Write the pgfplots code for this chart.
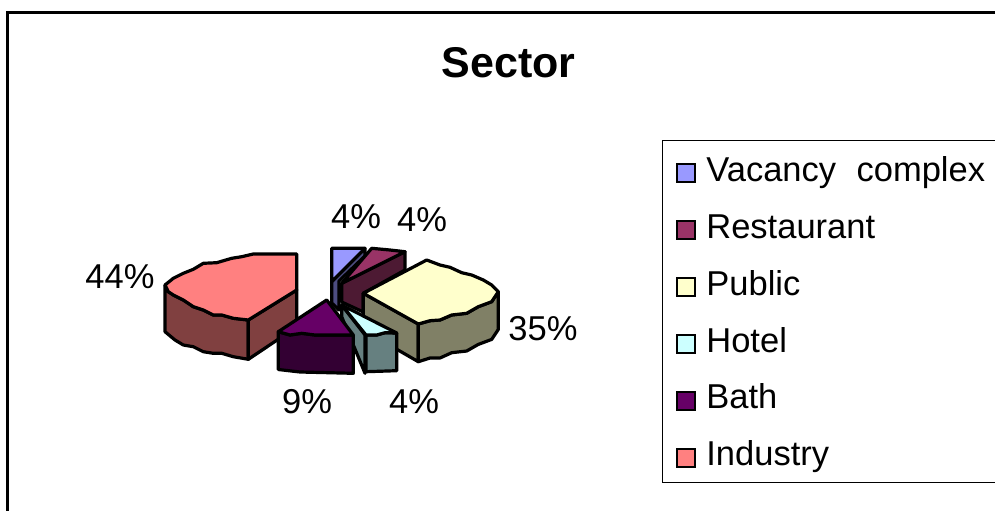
\documentclass[border=0pt]{standalone}
\usepackage{fontspec}
\setmainfont{Liberation Sans}
\usepackage{pgfplots}
\pgfplotsset{compat=1.18}
\definecolor{cVac}{HTML}{9999FF}\definecolor{cVacS}{HTML}{4D4D80}
\definecolor{cRes}{HTML}{993366}\definecolor{cResS}{HTML}{4D1A33}
\definecolor{cPub}{HTML}{FFFFCC}\definecolor{cPubS}{HTML}{808066}
\definecolor{cHot}{HTML}{CCFFFF}\definecolor{cHotS}{HTML}{668080}
\definecolor{cBat}{HTML}{660066}\definecolor{cBatS}{HTML}{330033}
\definecolor{cInd}{HTML}{FF8080}\definecolor{cIndS}{HTML}{804040}
\newcommand{\lab}{\fontsize{34.5bp}{40bp}\selectfont}
\newcommand{\swatch}[1]{\addlegendimage{legend image code/.code={\draw[black,line width=2bp,fill=#1] (0bp,-13bp) rectangle (18bp,5bp);}}}
\begin{document}
\begin{tikzpicture}
\useasboundingbox (0,0) rectangle (995bp,511bp);
\begin{axis}[
  scale only axis, width=995bp, height=511bp,
  xmin=0, xmax=995, ymin=0, ymax=511, y dir=reverse,
  axis lines=none, clip=true,
  piece/.style={draw=black, line width=3.2bp, line join=round},
  legend style={at={(axis cs:662,140)}, anchor=north west, draw=black, line width=0.8bp,
    font=\lab, row sep=25.4bp, inner xsep=14bp, inner ysep=13bp,
    cells={anchor=base west, text height=26bp, text depth=10bp}, text width=300bp,
    /tikz/every odd column/.append style={column sep=8bp}},
  legend cell align=left,
]
% frame
\addplot[forget plot, black, line width=3bp] coordinates {(7,511) (7,13) (995,13)};

% Vacancy complex
\addplot[forget plot, piece, fill=cVacS] coordinates {(331.7,281.7) (365,248.3) (365,256) (339,281) (339,310) (331.7,303)} --cycle;
\addplot[forget plot, piece, fill=cVac] coordinates {(331.7,248.3) (365,248.3) (331.7,281.7)} --cycle;
% Restaurant
\addplot[forget plot, piece, fill=cResS] coordinates {(341.7,283.3) (405,251.7) (405,270) (363.3,293.3) (363.3,312) (341.7,302)} --cycle;
\addplot[forget plot, piece, fill=cRes] coordinates {(341.7,283.3) (371.7,248.3) (390,250) (405,251.7)} --cycle;
% Public
\addplot[forget plot, piece, fill=cPubS] coordinates {(363.3,293.3) (363.3,330) (418.3,361.7) (418.3,324)} --cycle;
\addplot[forget plot, piece, fill=cPubS] coordinates {(418.3,324) (418.3,361.7) (430,358) (440,358) (451.7,352.7) (466.7,351) (478.3,344.4) (491.7,339.4) (498.3,329.4) (498.3,291.7) (491.7,301.7) (478.3,306.7) (466.7,313.3) (451.7,315) (440,320) (430,320.7)} --cycle;
\addplot[forget plot, piece, fill=cPub] coordinates {(426.7,260) (440,265) (450,267.3) (461.7,272.7) (471.7,275) (483.3,280) (491.7,285) (498.3,291.7) (491.7,301.7) (478.3,306.7) (466.7,313.3) (451.7,315) (440,320) (430,320.7) (418.3,324) (363.3,293.3)} --cycle;
% Industry
\addplot[forget plot, piece, fill=cIndS] coordinates {(165,285) (165,331.7) (175,340) (183.3,345) (193.3,346.7) (203.3,351.7) (213.3,353.3) (221.7,353.3) (233.3,356.7) (248.3,359.3) (248.3,320) (233.3,318.3) (221.7,315) (213.3,315) (203.3,310) (193.3,306.7) (183.3,300) (173.3,295) (168.3,291.7)} --cycle;
\addplot[forget plot, piece, fill=cIndS] coordinates {(248.3,320) (248.3,359.3) (296.7,327) (296.7,290)} --cycle;
\addplot[forget plot, piece, fill=cInd] coordinates {(296.7,254) (253.3,254) (241.7,256.7) (231.7,258.3) (216.7,262.7) (203.3,263.3) (193.3,269.3) (183.3,273.3) (173.3,278.3) (165,285) (168.3,291.7) (173.3,295) (183.3,300) (193.3,306.7) (203.3,310) (213.3,315) (221.7,315) (233.3,318.3) (248.3,320) (296.7,290)} --cycle;
% Hotel
\addplot[forget plot, piece, fill=cHotS] coordinates {(341.7,305) (341.7,316.7) (365,373.3) (365,335)} --cycle;
\addplot[forget plot, piece, fill=cHotS] coordinates {(366,335) (376.7,335) (385,332.7) (396.7,333) (396.7,370.7) (366,371.7)} --cycle;
\addplot[forget plot, piece, fill=cHot] coordinates {(341.7,305) (366,335) (376.7,335) (385,332.7) (396.7,333)} --cycle;
% Bath
\addplot[forget plot, piece, fill=cBatS] coordinates {(278.3,331.7) (290,335) (301.7,333.3) (315,335) (353.3,335) (353.3,373.3) (300,372) (278.3,369.5)} --cycle;
\addplot[forget plot, piece, fill=cBat] coordinates {(326.7,300) (278.3,331.7) (290,335) (301.7,333.3) (315,335) (353.3,335)} --cycle;

% data labels
\node[font=\lab] at (axis cs:356,217) {4\%};
\node[font=\lab] at (axis cs:422,220) {4\%};
\node[font=\lab] at (axis cs:543,329) {35\%};
\node[font=\lab] at (axis cs:414,402) {4\%};
\node[font=\lab] at (axis cs:307,402) {9\%};
\node[font=\lab] at (axis cs:120,277) {44\%};
% title
\node[font=\fontsize{43bp}{48bp}\selectfont\bfseries] at (axis cs:508.5,63) {Sector};

% legend
\swatch{cVac}\addlegendentry{Vacancy\hspace{9bp} complex}
\swatch{cRes}\addlegendentry{Restaurant}
\swatch{cPub}\addlegendentry{Public}
\swatch{cHot}\addlegendentry{Hotel}
\swatch{cBat}\addlegendentry{Bath}
\swatch{cInd}\addlegendentry{Industry}
\end{axis}
\end{tikzpicture}
\end{document}
